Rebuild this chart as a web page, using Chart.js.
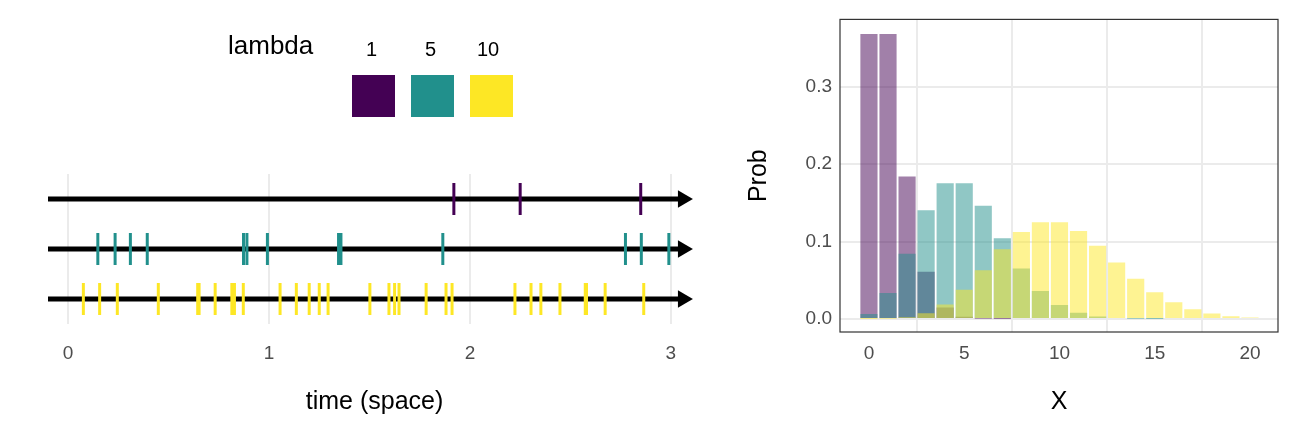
<!DOCTYPE html>
<html>
<head>
<meta charset="utf-8">
<script src="https://cdn.jsdelivr.net/npm/chart.js@4"></script>
<style>
  body { margin: 0; background: #fff; font-family: 'Liberation Sans', Arial, sans-serif; }
  #wrap { position: relative; width: 1296px; height: 421px; }
  canvas { position: absolute; top: 0; }
  .lg { position: absolute; color: #000; }
  .sw { position: absolute; top: 75px; width: 43px; height: 42px; }
</style>
</head>
<body>
<div id="wrap">
  <canvas id="left" width="720" height="421" style="left:0;width:720px;height:421px"></canvas>
  <canvas id="right" width="556" height="421" style="left:740px;width:556px;height:421px"></canvas>
  <div class="lg" style="left:228px;top:30px;font-size:26px">lambda</div>
  <div class="lg" style="left:366px;top:38px;font-size:20px">1</div>
  <div class="lg" style="left:425px;top:38px;font-size:20px">5</div>
  <div class="lg" style="left:477px;top:38px;font-size:20px">10</div>
  <div class="sw" style="left:352px;background:#440154"></div>
  <div class="sw" style="left:411px;background:#21908C"></div>
  <div class="sw" style="left:470px;background:#FDE725"></div>
</div>
<script>
// Viridis colours for lambda = 1, 5, 10
const COLORS = { l1: '#440154', l5: '#21908C', l10: '#FDE725' };
const alpha = (hex, a) => hex + Math.round(a * 255).toString(16).padStart(2, '0');

// event times on each line
const events1 = [1.92, 2.25, 2.85];
const events5 = [0.148, 0.234, 0.31, 0.394, 0.873, 0.89, 0.992, 1.346, 1.358, 1.865, 2.774, 2.853, 2.99];
const events10 = [0.076, 0.157, 0.245, 0.449, 0.645, 0.652, 0.732, 0.815, 0.828, 0.872, 1.055, 1.136,
  1.2, 1.25, 1.294, 1.502, 1.597, 1.625, 1.647, 1.782, 1.881, 1.911, 2.224, 2.304, 2.353, 2.448,
  2.574, 2.58, 2.673, 2.865];
const timeTicks = [0, 1, 2, 3];

// probabilities per count X
const xValues = [0,1,2,3,4,5,6,7,8,9,10,11,12,13,14,15,16,17,18,19,20];
const prob1 = [0.368,0.368,0.184,0.061,0.015,0.003,0.0005,0.0001,0,0,0,0,0,0,0,0,0,0,0,0,0];
const prob5 = [0.0067,0.0337,0.0842,0.1404,0.1755,0.1755,0.1462,0.1044,0.0653,0.0363,0.0181,
  0.0082,0.0034,0.0013,0.0005,0.0002,0,0,0,0,0];
const prob10 = [0.00005,0.0005,0.0023,0.0076,0.0189,0.0378,0.0631,0.0901,0.1126,0.1251,0.1251,
  0.1137,0.0948,0.0729,0.0521,0.0347,0.0217,0.0128,0.0071,0.0037,0.0019];

const TICK = { color: '#4d4d4d', font: { family: 'Liberation Sans', size: 19 } };
const TITLE = { display: true, color: '#000', font: { family: 'Liberation Sans', size: 25 } };
const GRID = '#ebebeb';

// ---- left: event lines ----
const rows = [
  { y: 3, ev: events1, c: COLORS.l1 },
  { y: 2, ev: events5, c: COLORS.l5 },
  { y: 1, ev: events10, c: COLORS.l10 },
];
const leftSets = [];
rows.forEach(r => {
  leftSets.push({
    type: 'line', data: [{ x: -0.1, y: r.y }, { x: 3.06, y: r.y }],
    borderColor: '#000', borderWidth: 5, pointRadius: [0, 10], pointStyle: 'triangle',
    pointRotation: 90, pointBackgroundColor: '#000', pointBorderWidth: 0, order: 2,
  });
  leftSets.push({
    type: 'scatter', data: r.ev.map(t => ({ x: t, y: r.y })),
    pointStyle: 'line', pointRotation: 90, pointRadius: 16, borderColor: r.c, borderWidth: 3, order: 1,
  });
});

new Chart(document.getElementById('left'), {
  type: 'scatter',
  data: { datasets: leftSets },
  options: {
    responsive: false, animation: false,
    layout: { padding: { left: 48, right: 18, top: 174 } },
    plugins: { legend: { display: false }, tooltip: { enabled: false } },
    scales: {
      x: {
        type: 'linear', min: -0.1, max: 3.15,
        afterBuildTicks: s => { s.ticks = timeTicks.map(v => ({ value: v })); },
        afterFit: s => { s.height = 97; },
        grid: { color: GRID, lineWidth: 2, drawTicks: false },
        border: { display: false },
        ticks: { ...TICK, padding: 18 },
        title: { ...TITLE, text: 'time (space)', padding: { top: 2 } },
      },
      y: { display: false, min: 0.5, max: 3.5 },
    },
  },
});

// ---- right: pmf bars ----
const panelBorder = {
  id: 'panelBorder',
  afterDraw(chart) {
    const a = chart.chartArea, ctx = chart.ctx;
    ctx.save();
    ctx.strokeStyle = '#333'; ctx.lineWidth = 1.2;
    ctx.strokeRect(a.left, a.top, a.right - a.left, a.bottom - a.top);
    ctx.restore();
  },
};
const mk = (vals, c, order) => ({
  data: xValues.map((x, i) => ({ x, y: vals[i] })),
  backgroundColor: alpha(c, 0.5), grouped: false, barPercentage: 0.9, categoryPercentage: 1, order,
});

new Chart(document.getElementById('right'), {
  type: 'bar',
  data: { datasets: [mk(prob1, COLORS.l1, 2), mk(prob5, COLORS.l5, 1), mk(prob10, COLORS.l10, 0)] },
  options: {
    responsive: false, animation: false,
    layout: { padding: { top: 17, right: 18 } },
    plugins: { legend: { display: false }, tooltip: { enabled: false } },
    scales: {
      x: {
        type: 'linear', min: -1.52, max: 21.47, offset: false,
        afterBuildTicks: s => { s.ticks = [0, 5, 10, 15, 20].map(v => ({ value: v })); },
        afterFit: s => { s.height = 89; },
        grid: { color: GRID, lineWidth: 2, drawTicks: false },
        border: { display: false },
        ticks: { ...TICK, padding: 10 },
        title: { ...TITLE, text: 'X', padding: { top: 4 } },
      },
      y: {
        min: -0.0167, max: 0.387,
        afterBuildTicks: s => { s.ticks = [0, 0.1, 0.2, 0.3].map(v => ({ value: v })); },
        afterFit: s => { s.width = 100; },
        grid: { color: GRID, lineWidth: 2, drawTicks: false },
        border: { display: false },
        ticks: { ...TICK, padding: 8, callback: v => v.toFixed(1) },
        title: { ...TITLE, text: 'Prob', padding: { bottom: 4 } },
      },
    },
  },
  plugins: [panelBorder],
});
</script>
</body>
</html>
